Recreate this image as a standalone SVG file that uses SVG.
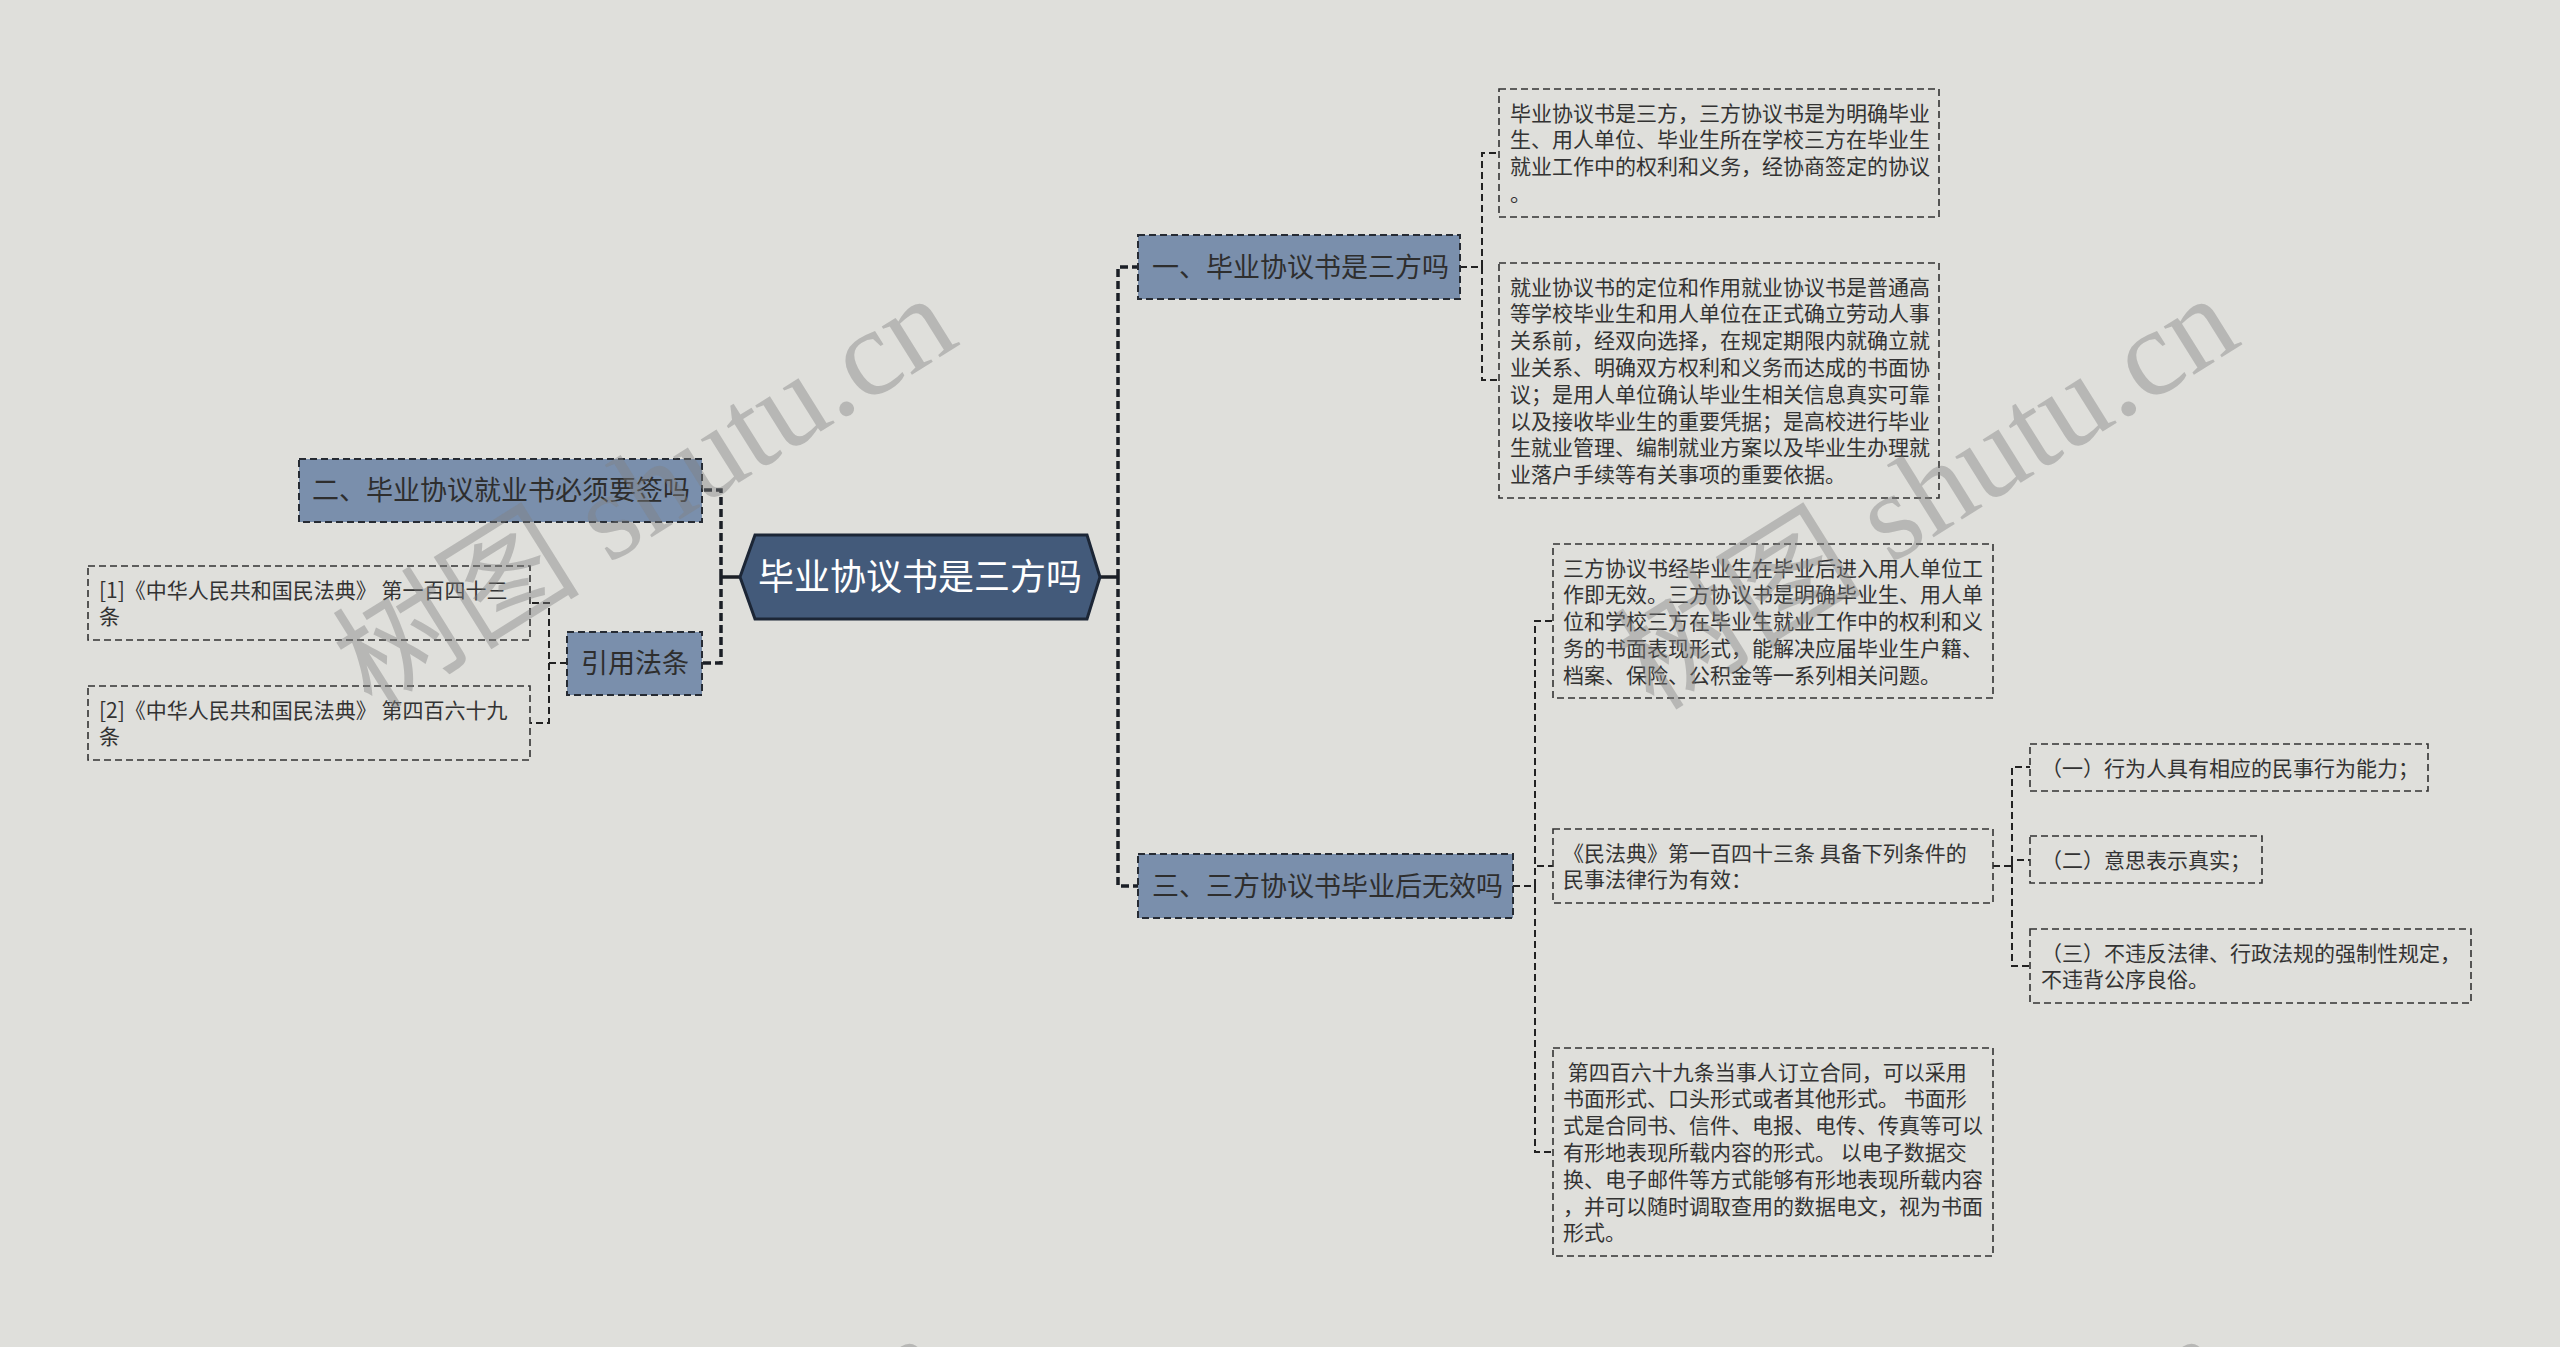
<svg xmlns="http://www.w3.org/2000/svg" width="2560" height="1347" viewBox="0 0 2560 1347">
<style>
text{font-family:"Noto Sans CJK SC","Noto Sans",sans-serif;}
.leaf{fill:#dfdfdb;stroke:#333;stroke-width:1.6;stroke-dasharray:7 4;}
.sub{fill:#7a8fac;stroke:#262b33;stroke-width:2;stroke-dasharray:7 4;}
.t21{font-size:21px;fill:#333;}
.t27{font-size:27px;fill:#2e2e2e;}
.conn{fill:none;stroke:#222;stroke-width:2;stroke-dasharray:7 4;}
.connMain{fill:none;stroke:#1b1f26;stroke-width:3.5;stroke-dasharray:8 4;}
.wm{font-family:"Liberation Serif","Noto Sans CJK SC",serif;font-size:124px;fill:#808080;fill-opacity:0.42;}
</style>
<rect x="0" y="0" width="2560" height="1347" fill="#dfdfdb"/>

<g id="connectors">
  <path d="M1100,577 H1118 M740,577 H721" fill="none" stroke="#1b1f26" stroke-width="3.5"/>
  <path class="connMain" d="M1118,577 V267 H1138 M1118,577 V886 H1138"/>
  <path class="connMain" d="M721,577 V490 H702 M721,577 V663 H702"/>
  <path class="conn" d="M1460,267 H1482 V153 H1499 M1482,267 V380 H1499"/>
  <path class="conn" d="M1513,886 H1535 V621 H1553 M1535,886 V866 H1553 M1535,886 V1152 H1553"/>
  <path class="conn" d="M1993,866 H2012 V767 H2030 M2012,866 V860 H2030 M2012,866 V966 H2030"/>
  <path class="conn" d="M567,663 H549 V603 H530 M549,663 V723 H530"/>
</g>

<g id="root">
  <polygon points="740,577 755,535 1087,535 1100,577 1087,619 755,619" fill="#435a7a" stroke="#1c2636" stroke-width="3"/>
  <text x="920" y="590" text-anchor="middle" style="font-size:36px;fill:#ffffff;">毕业协议书是三方吗</text>
</g>

<g id="n1">
  <rect class="sub" x="1138" y="235" width="322" height="64"/>
  <text class="t27" x="1152" y="277">一、毕业协议书是三方吗</text>
</g>
<g id="n3">
  <rect class="sub" x="1138" y="854" width="375" height="64"/>
  <text class="t27" x="1152" y="896">三、三方协议书毕业后无效吗</text>
</g>
<g id="n2">
  <rect class="sub" x="299" y="459" width="403" height="63"/>
  <text class="t27" x="312" y="500">二、毕业协议就业书必须要签吗</text>
</g>
<g id="nref">
  <rect class="sub" x="567" y="632" width="135" height="63"/>
  <text class="t27" x="581" y="673">引用法条</text>
</g>

<g id="leaf1">
  <rect class="leaf" x="1499" y="89" width="440" height="128"/>
  <text class="t21">
    <tspan x="1510" y="120.5">毕业协议书是三方，三方协议书是为明确毕业</tspan>
    <tspan x="1510" y="147.3">生、用人单位、毕业生所在学校三方在毕业生</tspan>
    <tspan x="1510" y="174.1">就业工作中的权利和义务，经协商签定的协议</tspan>
    <tspan x="1510" y="200.9">。</tspan>
  </text>
</g>
<g id="leaf2">
  <rect class="leaf" x="1499" y="263" width="440" height="235"/>
  <text class="t21">
    <tspan x="1510" y="294.5">就业协议书的定位和作用就业协议书是普通高</tspan>
    <tspan x="1510" y="321.3">等学校毕业生和用人单位在正式确立劳动人事</tspan>
    <tspan x="1510" y="348.1">关系前，经双向选择，在规定期限内就确立就</tspan>
    <tspan x="1510" y="374.9">业关系、明确双方权利和义务而达成的书面协</tspan>
    <tspan x="1510" y="401.7">议；是用人单位确认毕业生相关信息真实可靠</tspan>
    <tspan x="1510" y="428.5">以及接收毕业生的重要凭据；是高校进行毕业</tspan>
    <tspan x="1510" y="455.3">生就业管理、编制就业方案以及毕业生办理就</tspan>
    <tspan x="1510" y="482.1">业落户手续等有关事项的重要依据。</tspan>
  </text>
</g>
<g id="leafA">
  <rect class="leaf" x="1553" y="544" width="440" height="154"/>
  <text class="t21">
    <tspan x="1563" y="575.5">三方协议书经毕业生在毕业后进入用人单位工</tspan>
    <tspan x="1563" y="602.3">作即无效。三方协议书是明确毕业生、用人单</tspan>
    <tspan x="1563" y="629.1">位和学校三方在毕业生就业工作中的权利和义</tspan>
    <tspan x="1563" y="655.9">务的书面表现形式，能解决应届毕业生户籍、</tspan>
    <tspan x="1563" y="682.7">档案、保险、公积金等一系列相关问题。</tspan>
  </text>
</g>
<g id="leafB">
  <rect class="leaf" x="1553" y="829" width="440" height="74"/>
  <text class="t21">
    <tspan x="1563" y="860.5">《民法典》第一百四十三条 具备下列条件的</tspan>
    <tspan x="1563" y="887.3">民事法律行为有效：</tspan>
  </text>
</g>
<g id="leafC">
  <rect class="leaf" x="1553" y="1048" width="440" height="208"/>
  <text class="t21" xml:space="preserve"><tspan x="1563" y="1079.5"> 第四百六十九条当事人订立合同，可以采用</tspan><tspan x="1563" y="1106.3">书面形式、口头形式或者其他形式。 书面形</tspan><tspan x="1563" y="1133.1">式是合同书、信件、电报、电传、传真等可以</tspan><tspan x="1563" y="1159.9">有形地表现所载内容的形式。 以电子数据交</tspan><tspan x="1563" y="1186.7">换、电子邮件等方式能够有形地表现所载内容</tspan><tspan x="1563" y="1213.5">，并可以随时调取查用的数据电文，视为书面</tspan><tspan x="1563" y="1240.3">形式。</tspan></text>
</g>
<g id="cond1">
  <rect class="leaf" x="2030" y="744" width="398" height="47"/>
  <text class="t21" x="2041" y="775.5">（一）行为人具有相应的民事行为能力；</text>
</g>
<g id="cond2">
  <rect class="leaf" x="2030" y="836" width="232" height="47"/>
  <text class="t21" x="2041" y="867.5">（二）意思表示真实；</text>
</g>
<g id="cond3">
  <rect class="leaf" x="2030" y="929" width="441" height="74"/>
  <text class="t21">
    <tspan x="2041" y="960.5">（三）不违反法律、行政法规的强制性规定，</tspan>
    <tspan x="2041" y="987.3">不违背公序良俗。</tspan>
  </text>
</g>
<g id="cite1">
  <rect class="leaf" x="88" y="566" width="442" height="74"/>
  <text class="t21">
    <tspan x="99" y="597.5">[1]《中华人民共和国民法典》 第一百四十三</tspan>
    <tspan x="99" y="624.3">条</tspan>
  </text>
</g>
<g id="cite2">
  <rect class="leaf" x="88" y="686" width="442" height="74"/>
  <text class="t21">
    <tspan x="99" y="717.5">[2]《中华人民共和国民法典》 第四百六十九</tspan>
    <tspan x="99" y="744.3">条</tspan>
  </text>
</g>

<g id="watermarks">
  <text class="wm" transform="translate(372,712) rotate(-32)">树图 shutu.cn</text>
  <text class="wm" transform="translate(1654,712) rotate(-32)">树图 shutu.cn</text>
  <text class="wm" transform="translate(362,1752) rotate(-32)">树图 shutu.cn</text>
  <text class="wm" transform="translate(1644,1752) rotate(-32)">树图 shutu.cn</text>
</g>
</svg>
